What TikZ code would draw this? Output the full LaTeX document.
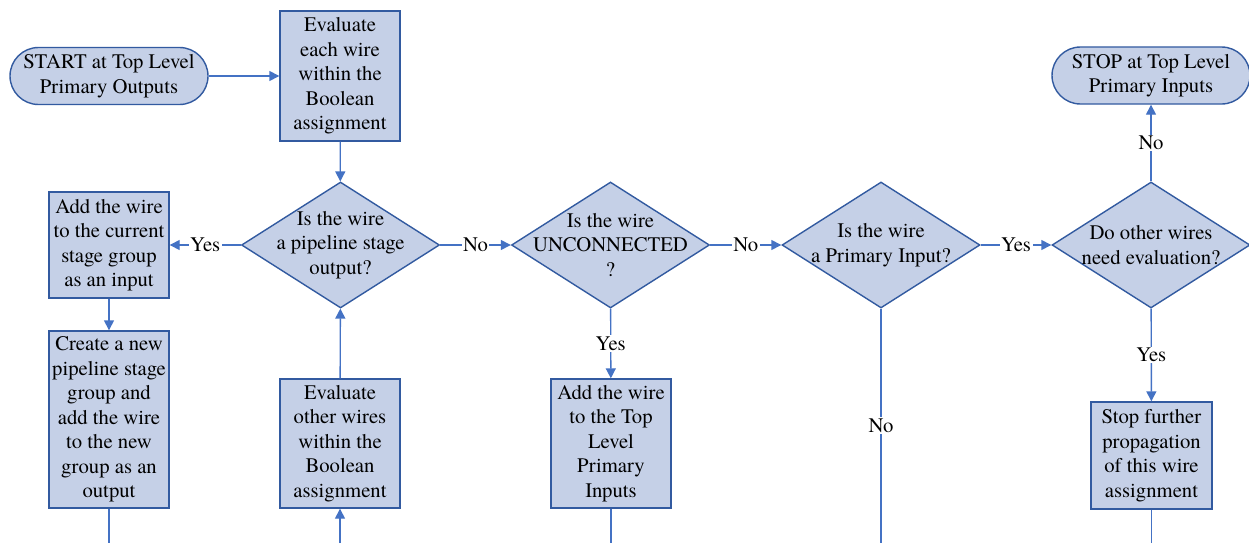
\documentclass[tikz,border=0pt]{standalone}
\usepackage{fontspec}
\setmainfont{texgyretermes}[Extension=.otf, UprightFont=*-regular]
\usetikzlibrary{arrows.meta,shapes.geometric}
\definecolor{boxfill}{RGB}{197,208,231}
\definecolor{boxline}{RGB}{50,90,160}
\definecolor{flow}{RGB}{68,114,196}
\begin{document}
\begin{tikzpicture}[x=1pt,y=-1pt,
  every node/.style={font=\fontsize{20.7}{24.5}\selectfont, inner sep=0pt},
  procbox/.style={rectangle, draw=boxline, fill=boxfill, line width=1.4pt, align=center},
  terminal/.style={rectangle, rounded corners=28.5pt, draw=boxline, fill=boxfill, line width=1.4pt,
    align=center, minimum width=198pt, minimum height=57pt},
  decision/.style={diamond, draw=boxline, fill=boxfill, line width=1.4pt,
    minimum width=198pt, minimum height=126pt},
  dtext/.style={align=center},
  flowline/.style={draw=flow, line width=1.4pt},
  flowarrow/.style={flowline, -{Triangle[length=10pt,width=10pt]}},
  flowlabel/.style={fill=white, inner sep=1.5pt}
]
\useasboundingbox (0,0) rectangle (1249,543);
\clip (0,0) rectangle (1249,543);

% terminals
\node[terminal] (start) at (109,76) {START at Top Level\\Primary Outputs};
\node[terminal] (stop) at (1151,75.5) {STOP at Top Level\\Primary Inputs};

% process boxes
\node[procbox, minimum width=120pt, minimum height=130pt] (eval1) at (340,76)
  {Evaluate\\each wire\\within the\\Boolean\\assignment};
\node[procbox, minimum width=120pt, minimum height=106pt] (addcur) at (109,245)
  {Add the wire\\to the current\\stage group\\as an input};
\node[procbox, minimum width=120pt, minimum height=177pt] (create) at (109,419.5)
  {Create a new\\pipeline stage\\group and\\add the wire\\to the new\\group as an\\output};
\node[procbox, minimum width=120pt, minimum height=129pt] (evalo) at (340,443.5)
  {Evaluate\\other wires\\within the\\Boolean\\assignment};
\node[procbox, minimum width=120pt, minimum height=129pt] (addtop) at (611,443.5)
  {Add the wire\\to the Top\\Level\\Primary\\Inputs};
\node[procbox, minimum width=121pt, minimum height=107pt] (stopprop) at (1151.5,455.5)
  {Stop further\\propagation\\of this wire\\assignment};

% decisions
\node[decision] (d1) at (340.5,245) {};
\node[dtext] (d1t) at (d1) {Is the wire\\a pipeline stage\\output?};
\node[decision] (d2) at (610.5,245) {};
\node[dtext] (d2t) at (d2) {Is the wire\\UNCONNECTED\\?};
\node[decision] (d3) at (881,245) {};
\node[dtext] (d3t) at (d3) {Is the wire\\a Primary Input?};
\node[decision] (d4) at (1151,245) {};
\node[dtext] (d4t) at (d4) {Do other wires\\need evaluation?};

% loose ends leaving the drawing
\coordinate (e1) at (109,543);
\coordinate (e2) at (340,543);
\coordinate (e3) at (611,543);
\coordinate (e4) at (881,543);
\coordinate (e5) at (1151.5,543);

% connectors
\draw[flowarrow] (start) -- (eval1);
\draw[flowarrow] (eval1) -- (d1);
\draw[flowarrow] (d1) -- node[flowlabel] {Yes} (addcur);
\draw[flowarrow] (addcur) -- (create);
\draw[flowline] (create) -- (e1);
\draw[flowarrow] (e2) -- (evalo);
\draw[flowarrow] (evalo) -- (d1);
\draw[flowarrow] (d1) -- node[flowlabel] {No} (d2);
\draw[flowarrow] (d2) -- node[flowlabel] {Yes} (addtop);
\draw[flowline] (addtop) -- (e3);
\draw[flowarrow] (d2) -- node[flowlabel] {No} (d3);
\draw[flowline] (d3) -- node[flowlabel] {No} (e4);
\draw[flowarrow] (d3) -- node[flowlabel] {Yes} (d4);
\draw[flowarrow] (d4) -- node[flowlabel] {No} (stop);
\draw[flowarrow] (d4) -- node[flowlabel] {Yes} (stopprop);
\draw[flowline] (stopprop) -- (e5);
\end{tikzpicture}
\end{document}
